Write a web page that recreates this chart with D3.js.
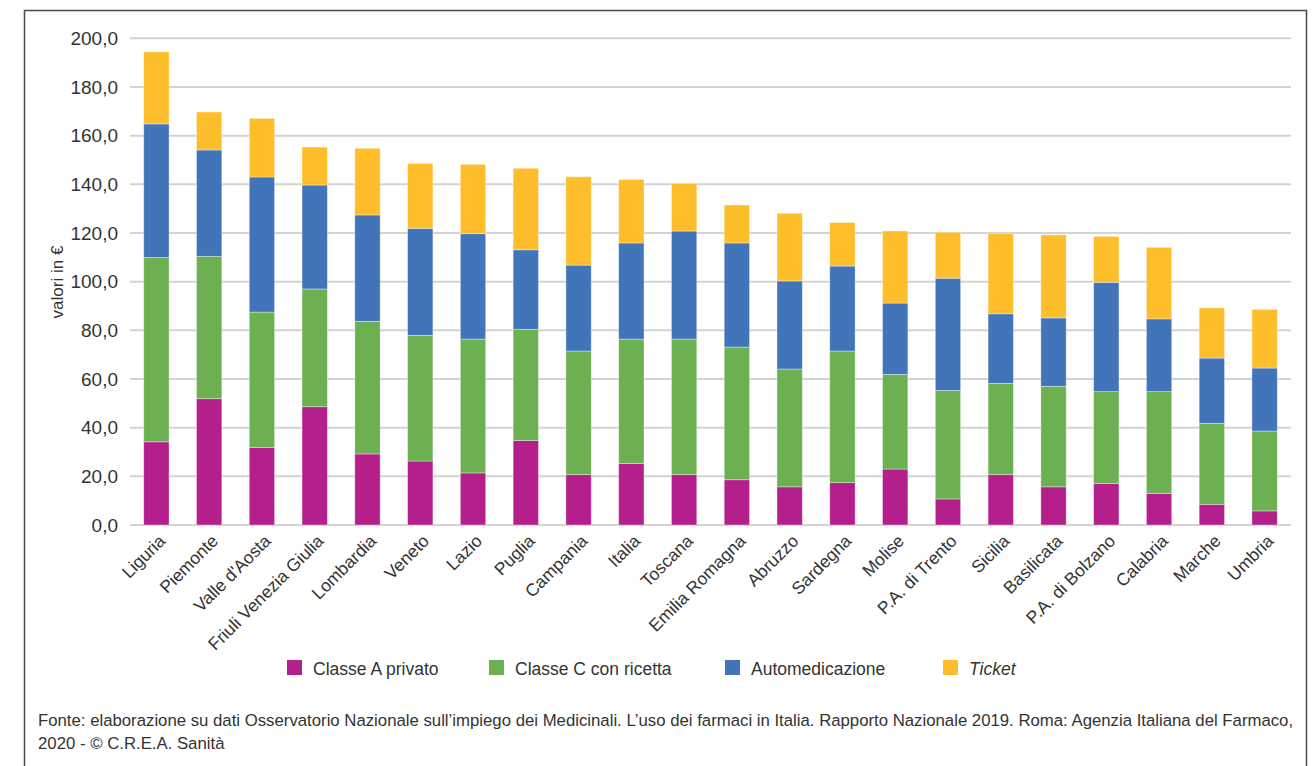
<!DOCTYPE html>
<html lang="it">
<head>
<meta charset="utf-8">
<script src="https://cdn.jsdelivr.net/npm/d3@7"></script>
<style>
  html, body { margin: 0; padding: 0; background: #fff; }
  svg { display: block; }
  text { font-family: "Liberation Sans", Arial, sans-serif; fill: #333; }
</style>
</head>
<body>
<svg id="chart" width="1316" height="766"></svg>
<script>
// Spesa pro capite per farmaci a carico dei cittadini, per regione (valori in €)
const regions = ["Liguria", "Piemonte", "Valle d'Aosta", "Friuli Venezia Giulia", "Lombardia",
  "Veneto", "Lazio", "Puglia", "Campania", "Italia", "Toscana", "Emilia Romagna", "Abruzzo",
  "Sardegna", "Molise", "P.A. di Trento", "Sicilia", "Basilicata", "P.A. di Bolzano",
  "Calabria", "Marche", "Umbria"];

const classeAPrivato = [34.2, 51.9, 31.8, 48.6, 29.2, 26.3, 21.4, 34.7, 20.7, 25.3, 20.7,
  18.6, 15.7, 17.4, 23.0, 10.7, 20.7, 15.7, 17.0, 12.9, 8.5, 5.8];
const classeCRicetta = [75.7, 58.5, 55.7, 48.4, 54.5, 51.6, 55.0, 45.7, 50.8, 51.1, 55.7,
  54.5, 48.4, 54.1, 38.9, 44.6, 37.5, 41.3, 37.8, 41.9, 33.3, 32.8];
const automedicazione = [54.9, 43.7, 55.5, 42.7, 43.7, 44.0, 43.3, 32.7, 35.3, 39.5, 44.4,
  42.8, 36.2, 34.9, 29.3, 46.1, 28.6, 28.1, 44.9, 29.9, 26.8, 25.9];
const ticket = [29.6, 15.6, 24.1, 15.6, 27.4, 26.7, 28.5, 33.5, 36.3, 26.1, 19.6,
  15.6, 27.8, 17.9, 29.6, 18.9, 32.9, 34.1, 18.9, 29.4, 20.6, 24.1];

const seriesNames = ["Classe A privato", "Classe C con ricetta", "Automedicazione", "Ticket"];
const seriesColors = ["#b41f8c", "#6cb052", "#4274b9", "#febd2a"];
const yTicks = [0, 20, 40, 60, 80, 100, 120, 140, 160, 180, 200];

const fonte = [
  "Fonte: elaborazione su dati Osservatorio Nazionale sull\u2019impiego dei Medicinali. L\u2019uso dei farmaci in Italia. Rapporto Nazionale 2019. Roma: Agenzia Italiana del Farmaco,",
  "2020 - \u00A9 C.R.E.A. Sanit\u00E0"
];

// Tabella per lo stack
const seriesKeys = ["a", "c", "auto", "ticket"];
const table = regions.map((r, i) => ({
  region: r,
  a: classeAPrivato[i],
  c: classeCRicetta[i],
  auto: automedicazione[i],
  ticket: ticket[i]
}));
const stacked = d3.stack().keys(seriesKeys)(table);

const svg = d3.select("#chart");

// Cornice
svg.append("rect")
  .attr("x", 24.5).attr("y", 10.5)
  .attr("width", 1282).attr("height", 800)
  .attr("fill", "none").attr("stroke", "#4a4a4a").attr("stroke-width", 1.5);

const plot = { left: 130, right: 1291, top: 38.3, bottom: 525 };

const x = d3.scaleBand()
  .domain(regions)
  .range([plot.left, plot.right])
  .paddingInner(0.52)
  .paddingOuter(0.26);

const y = d3.scaleLinear()
  .domain([0, 200])
  .range([plot.bottom, plot.top]);

// Griglia orizzontale
svg.append("g")
  .selectAll("line")
  .data(yTicks)
  .join("line")
  .attr("x1", plot.left).attr("x2", plot.right)
  .attr("y1", d => y(d)).attr("y2", d => y(d))
  .attr("stroke", "#d3d3d3").attr("stroke-width", 2);

// Asse Y
const yAxis = svg.append("g")
  .attr("transform", `translate(${plot.left},0)`)
  .call(d3.axisLeft(y).tickValues(yTicks).tickSize(0).tickPadding(12)
    .tickFormat(d => d3.format(".1f")(d).replace(".", ",")));
yAxis.select(".domain").remove();
yAxis.selectAll("text")
  .style("font-size", "19px")
  .attr("fill", "#333");

// Barre impilate
svg.append("g")
  .selectAll("g")
  .data(stacked)
  .join("g")
  .attr("fill", (d, i) => seriesColors[i])
  .selectAll("rect")
  .data(d => d)
  .join("rect")
  .attr("x", d => x(d.data.region))
  .attr("y", d => y(d[1]))
  .attr("width", x.bandwidth())
  .attr("height", d => y(d[0]) - y(d[1]))
  .attr("stroke", "#ffffff")
  .attr("stroke-opacity", 0.45)
  .attr("stroke-width", 0.8);

// Etichette asse X
const xAxis = svg.append("g")
  .attr("transform", `translate(0,${plot.bottom})`)
  .call(d3.axisBottom(x).tickSize(0).tickPadding(0));
xAxis.select(".domain").remove();
xAxis.selectAll("text")
  .style("font-size", "17.5px")
  .attr("fill", "#333")
  .attr("text-anchor", "end")
  .attr("dy", null)
  .attr("y", null)
  .attr("transform", "translate(10,17) rotate(-45)");

// Titolo asse Y
svg.append("text")
  .attr("transform", `translate(63,282) rotate(-90)`)
  .attr("text-anchor", "middle")
  .style("font-size", "17px")
  .text("valori in \u20AC");

// Legenda
const legendX = [287, 489, 725, 943];
const legend = svg.append("g");
seriesNames.forEach((name, i) => {
  legend.append("rect")
    .attr("x", legendX[i]).attr("y", 660)
    .attr("width", 15).attr("height", 15)
    .attr("fill", seriesColors[i]);
  legend.append("text")
    .attr("x", legendX[i] + 26).attr("y", 675)
    .style("font-size", "17.5px")
    .style("font-style", i === 3 ? "italic" : "normal")
    .text(name);
});

// Fonte
svg.append("g")
  .selectAll("text")
  .data(fonte)
  .join("text")
  .attr("x", 38)
  .attr("y", (d, i) => 726 + i * 23)
  .style("font-size", "16.75px")
  .text(d => d);
</script>
</body>
</html>
